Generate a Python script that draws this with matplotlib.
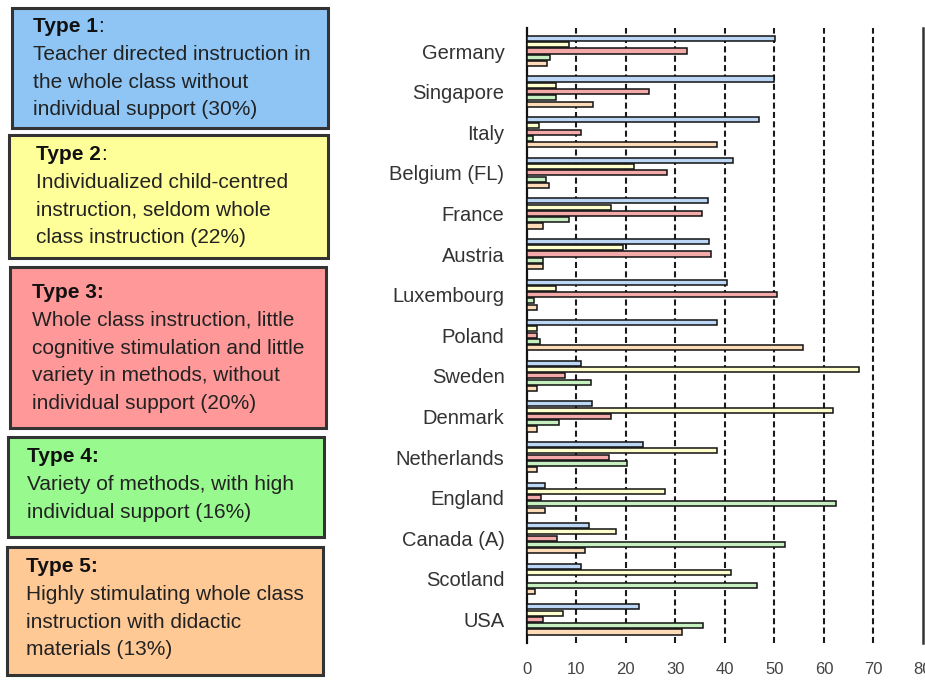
import numpy as np
import matplotlib
matplotlib.use("Agg")
from matplotlib import pyplot as plt
from matplotlib.patches import Rectangle

plt.rcParams['font.family'] = ['Liberation Sans', 'DejaVu Sans']

countries = ["Germany", "Singapore", "Italy", "Belgium (FL)", "France", "Austria",
             "Luxembourg", "Poland", "Sweden", "Denmark", "Netherlands", "England",
             "Canada (A)", "Scotland", "USA"]

# share of lessons (%) per teaching type
type1 = [50.1, 50.0, 46.9, 41.7, 36.5, 36.8, 40.5, 38.4, 11.0, 13.1, 23.5, 3.7, 12.6, 11.0, 22.7]
type2 = [8.6, 6.0, 2.5, 21.6, 17.1, 19.5, 6.0, 2.0, 67.1, 61.8, 38.4, 27.9, 18.0, 41.3, 7.4]
type3 = [32.3, 24.7, 10.9, 28.4, 35.3, 37.2, 50.5, 2.0, 7.7, 17.1, 16.7, 2.9, 6.2, 0.0, 3.2]
type4 = [4.8, 6.0, 1.2, 3.9, 8.6, 3.2, 1.5, 2.6, 12.9, 6.6, 20.2, 62.4, 52.2, 46.5, 35.6]
type5 = [4.0, 13.3, 38.4, 4.5, 3.2, 3.2, 2.0, 55.8, 2.0, 2.0, 2.0, 3.7, 11.8, 1.7, 31.3]

bar_colors = ["#bcd6f5", "#ffffcc", "#f5aaaa", "#c6f0c0", "#ffdcb8"]
x_ticks = [0, 10, 20, 30, 40, 50, 60, 70, 80]

box_titles = ["Type 1", "Type 2", "Type 3:", "Type 4:", "Type 5:"]
box_colons = [":", ":", "", "", ""]
box_lines = [
    ["Teacher directed instruction in", "the whole class without", "individual support (30%)"],
    ["Individualized child-centred", "instruction, seldom whole", "class instruction (22%)"],
    ["Whole class instruction, little", "cognitive stimulation and little",
     "variety in methods, without", "individual support (20%)"],
    ["Variety of methods, with high", "individual support (16%)"],
    ["Highly stimulating whole class", "instruction with didactic", "materials (13%)"],
]
box_colors = ["#8ec5f5", "#ffff99", "#ff9898", "#98fa8e", "#ffc996"]

W, H = 925, 681
fig = plt.figure(figsize=(W / 100, H / 100), dpi=100)
renderer = fig.canvas.get_renderer()

# left side: description boxes (pixel layout)
box_rects = [(12, 8, 328, 128), (9, 135, 328, 258), (10, 267, 326, 428),
             (8, 437, 324, 537), (7, 547, 323, 675)]
text_x = [33, 36, 32, 27, 26]
title_y = [27, 155, 293, 457, 567]
line_step = 27.5
fs = 15

for i in range(5):
    x0, y0, x1, y1 = box_rects[i]
    fig.patches.append(Rectangle((x0 / W, 1 - y1 / H), (x1 - x0) / W, (y1 - y0) / H,
                                 transform=fig.transFigure, facecolor=box_colors[i],
                                 edgecolor="#333333", linewidth=2.2))
    t = fig.text(text_x[i] / W, 1 - title_y[i] / H, box_titles[i], fontsize=fs,
                 fontweight="bold", color="#111111", va="center", ha="left")
    if box_colons[i]:
        bb = t.get_window_extent(renderer=renderer)
        fig.text(bb.x1 / W, 1 - title_y[i] / H, box_colons[i], fontsize=fs,
                 color="#111111", va="center", ha="left")
    for j, line in enumerate(box_lines[i]):
        fig.text(text_x[i] / W, 1 - (title_y[i] + (j + 1) * line_step) / H, line,
                 fontsize=fs, color="#222222", va="center", ha="left")

# right side: grouped horizontal bars
ax = fig.add_axes([526.7 / W, 1 - 643 / H, (923 - 526.7) / W, (643 - 28) / H])
y = np.arange(len(countries))
series = [type1, type2, type3, type4, type5]
step = 0.155
for k, vals in enumerate(series):
    ax.barh(y + (k - 2) * step, vals, height=0.125, color=bar_colors[k],
            edgecolor="#111111", linewidth=1.1, zorder=3)

for v in x_ticks[1:-1]:
    ax.axvline(v, color="#1a1a1a", linewidth=1.5, linestyle=(0, (2.9, 1.6)), zorder=1)

ax.set_xlim(0, 80)
ax.set_ylim(14.58, -0.567)
ax.set_xticks(x_ticks)
ax.set_yticks(y)
ax.set_yticklabels(countries)
ax.tick_params(axis="y", length=0, pad=16, labelsize=14.5, labelcolor="#333333")
ax.tick_params(axis="x", length=0, pad=14, labelsize=12, labelcolor="#444444")
ax.spines["top"].set_visible(False)
ax.spines["bottom"].set_visible(False)
ax.spines["left"].set_color("#111111")
ax.spines["left"].set_linewidth(1.6)
ax.spines["right"].set_color("#333333")
ax.spines["right"].set_linewidth(1.8)

fig.savefig("out.png", dpi=100)
